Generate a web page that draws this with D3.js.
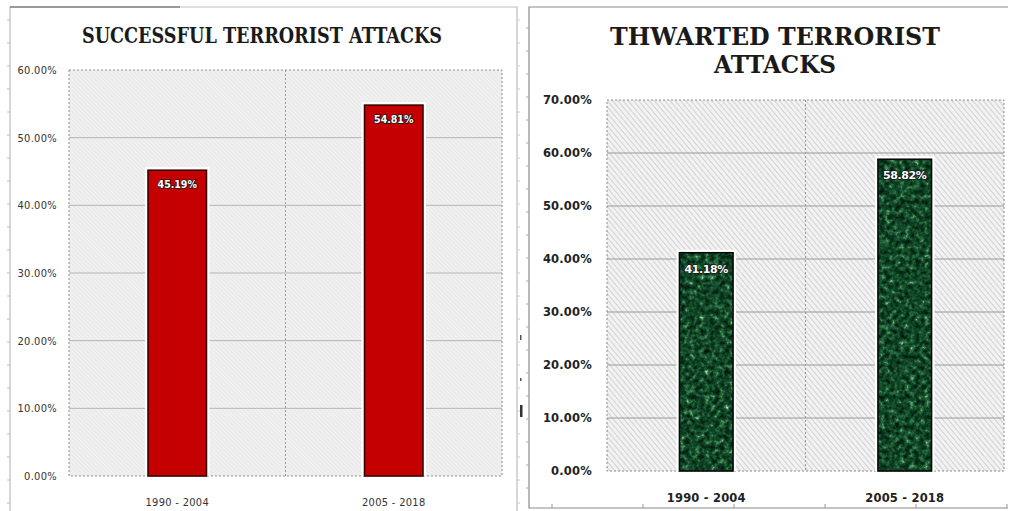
<!DOCTYPE html>
<html>
<head>
<meta charset="utf-8">
<script src="https://cdn.jsdelivr.net/npm/d3@7"></script>
<style>
  html, body { margin: 0; padding: 0; background: #fff; }
  svg { display: block; }
</style>
</head>
<body>
<svg id="chart" width="1019" height="511"></svg>
<script>
// Share of attacks per period
const categories = ["1990 - 2004", "2005 - 2018"];
const successfulValues = [45.19, 54.81];
const thwartedValues = [41.18, 58.82];
const successfulTicks = [0, 10, 20, 30, 40, 50, 60];
const thwartedTicks = [0, 10, 20, 30, 40, 50, 60, 70];

const svg = d3.select("#chart");
const defs = svg.append("defs");
const pct = d => d3.format(".2f")(d) + "%";

// Fine diagonal hatch for the left plot area
const hatchA = defs.append("pattern")
  .attr("id", "hatchA").attr("patternUnits", "userSpaceOnUse")
  .attr("width", 3).attr("height", 3)
  .attr("patternTransform", "rotate(-45)");
hatchA.append("rect").attr("width", 3).attr("height", 3).attr("fill", "#ebebeb");
hatchA.append("line").attr("x1", 0).attr("y1", 0).attr("x2", 0).attr("y2", 3)
  .attr("stroke", "#fafafa").attr("stroke-width", 1.2);

// Stronger diagonal hatch for the right plot area
const hatchB = defs.append("pattern")
  .attr("id", "hatchB").attr("patternUnits", "userSpaceOnUse")
  .attr("width", 4).attr("height", 4)
  .attr("patternTransform", "rotate(-40)");
hatchB.append("rect").attr("width", 4).attr("height", 4).attr("fill", "#f2f2f2");
hatchB.append("line").attr("x1", 0).attr("y1", 0).attr("x2", 0).attr("y2", 4)
  .attr("stroke", "#b2b2b2").attr("stroke-width", 1);

// Green marble texture for the thwarted bars
const marble = defs.append("filter").attr("id", "marble")
  .attr("x", 0).attr("y", 0).attr("width", 1).attr("height", 1)
  .attr("color-interpolation-filters", "sRGB");
marble.append("feTurbulence").attr("type", "fractalNoise")
  .attr("baseFrequency", 0.2).attr("numOctaves", 3).attr("seed", 7).attr("result", "noise");
marble.append("feColorMatrix").attr("in", "noise").attr("type", "matrix")
  .attr("values", "1 0 0 0 0  1 0 0 0 0  1 0 0 0 0  0 0 0 0 1").attr("result", "gray");
const ct = marble.append("feComponentTransfer").attr("in", "gray").attr("result", "tex");
ct.append("feFuncR").attr("type", "table").attr("tableValues", "0.0 0.0 0.01 0.03 0.05 0.09 0.16 0.34 0.68 0.85");
ct.append("feFuncG").attr("type", "table").attr("tableValues", "0.04 0.07 0.11 0.17 0.24 0.32 0.43 0.6 0.87 0.92");
ct.append("feFuncB").attr("type", "table").attr("tableValues", "0.02 0.03 0.06 0.09 0.13 0.18 0.25 0.4 0.72 0.85");
marble.append("feComposite").attr("in", "tex").attr("in2", "SourceGraphic").attr("operator", "in");

// Decorative frames with small ruler ticks
const frame = svg.append("g").attr("fill", "none");
frame.append("path").attr("d", "M10,511V7H517V511").attr("stroke", "#bdbdbd").attr("stroke-width", 1.2);
frame.append("line").attr("x1", 10).attr("x2", 180).attr("y1", 7).attr("y2", 7).attr("stroke", "#555");
frame.selectAll(".tl").data(d3.range(20, 511, 23)).join("line")
  .attr("x1", 7).attr("x2", 10).attr("y1", d => d).attr("y2", d => d).attr("stroke", "#bbb");
frame.selectAll(".tm").data(d3.range(20, 511, 23)).join("line")
  .attr("x1", 517).attr("x2", 520).attr("y1", d => d).attr("y2", d => d).attr("stroke", "#ccc");
frame.append("path").attr("d", "M1008,7H529V508H1008").attr("stroke", "#8a8a8a").attr("stroke-width", 1.2);
frame.selectAll(".tr").data(d3.range(28, 508, 23)).join("line")
  .attr("x1", 526).attr("x2", 529).attr("y1", d => d).attr("y2", d => d).attr("stroke", "#aaa");
frame.selectAll(".tb").data(d3.range(552, 1010, 91)).join("line")
  .attr("x1", d => d).attr("x2", d => d).attr("y1", 504).attr("y2", 508).attr("stroke", "#999");
frame.append("rect").attr("x", 520).attr("y", 405).attr("width", 2.5).attr("height", 12).attr("fill", "#333");
frame.append("rect").attr("x", 520).attr("y", 335).attr("width", 1.5).attr("height", 5).attr("fill", "#555");
frame.append("rect").attr("x", 520).attr("y", 378).attr("width", 1.5).attr("height", 3).attr("fill", "#555");

function drawPanel(cfg) {
  const g = svg.append("g");
  const x = d3.scaleBand().domain(categories)
    .range([cfg.left, cfg.right]).paddingInner(0.73).paddingOuter(0.365);
  const y = d3.scaleLinear().domain([0, cfg.max]).range([cfg.bottom, cfg.top]);

  // plot background
  g.append("rect")
    .attr("x", cfg.left).attr("y", cfg.top)
    .attr("width", cfg.right - cfg.left).attr("height", cfg.bottom - cfg.top)
    .attr("fill", cfg.hatch);

  // horizontal gridlines
  g.append("g").selectAll("line")
    .data(cfg.ticks.filter(t => t > 0 && t < cfg.max)).join("line")
    .attr("x1", cfg.left).attr("x2", cfg.right)
    .attr("y1", d => y(d)).attr("y2", d => y(d))
    .attr("stroke", cfg.gridColor).attr("stroke-width", 1);

  // vertical divider between categories
  const mid = (x(categories[0]) + x.bandwidth() + x(categories[1])) / 2;
  g.append("line").attr("x1", mid).attr("x2", mid)
    .attr("y1", cfg.top).attr("y2", cfg.bottom)
    .attr("stroke", "#9a9a9a").attr("stroke-dasharray", "2,2");

  // dashed plot border
  g.append("rect")
    .attr("x", cfg.left).attr("y", cfg.top)
    .attr("width", cfg.right - cfg.left).attr("height", cfg.bottom - cfg.top)
    .attr("fill", "none").attr("stroke", "#8c8c8c").attr("stroke-dasharray", "2,2");

  // y-axis labels
  const yAxis = d3.axisLeft(y).tickValues(cfg.ticks).tickFormat(pct).tickSize(0).tickPadding(0);
  const ya = g.append("g").attr("transform", `translate(${cfg.yLabelX},0)`).call(yAxis);
  ya.select(".domain").remove();
  ya.selectAll("text")
    .attr("font-family", cfg.labelFont).attr("font-size", cfg.labelSize)
    .attr("font-weight", cfg.labelWeight).attr("fill", cfg.labelColor)
    .attr("letter-spacing", cfg.labelSpacing);

  // x-axis labels
  const xAxis = d3.axisBottom(x).tickSize(0).tickPadding(0);
  const xa = g.append("g").attr("transform", `translate(0,${cfg.xLabelY})`).call(xAxis);
  xa.select(".domain").remove();
  xa.selectAll("text")
    .attr("font-family", cfg.labelFont).attr("font-size", cfg.labelSize)
    .attr("font-weight", cfg.labelWeight).attr("fill", cfg.labelColor)
    .attr("letter-spacing", cfg.labelSpacing);

  const bars = g.append("g");
  const data = categories.map((c, i) => ({ c, v: cfg.values[i] }));

  // white halo around each bar
  bars.selectAll(".halo").data(data).join("rect")
    .attr("x", d => x(d.c) - 3).attr("y", d => y(d.v) - 3)
    .attr("width", x.bandwidth() + 6).attr("height", d => y(0) - y(d.v) + 3)
    .attr("fill", "#fff");

  bars.selectAll(".bar").data(data).join("rect")
    .attr("x", d => x(d.c)).attr("y", d => y(d.v))
    .attr("width", x.bandwidth()).attr("height", d => y(0) - y(d.v))
    .attr("fill", cfg.barFill).attr("filter", cfg.barFilter || null);

  bars.selectAll(".edge").data(data).join("rect")
    .attr("x", d => x(d.c)).attr("y", d => y(d.v))
    .attr("width", x.bandwidth()).attr("height", d => y(0) - y(d.v))
    .attr("fill", "none").attr("stroke", cfg.barStroke).attr("stroke-width", 1.6);

  // value labels inside bar tops
  bars.selectAll(".val").data(data).join("text")
    .attr("x", d => x(d.c) + x.bandwidth() / 2)
    .attr("y", d => y(d.v) + cfg.valueOffset)
    .attr("text-anchor", "middle")
    .attr("font-family", cfg.valueFont).attr("font-size", cfg.valueSize)
    .attr("font-weight", "bold").attr("fill", "#fff")
    .attr("stroke", "#1a1a1a").attr("stroke-width", 1.6)
    .attr("paint-order", "stroke").attr("letter-spacing", cfg.valueSpacing)
    .text(d => pct(d.v));

  // title
  const title = g.append("g").attr("font-family", "'DejaVu Serif', 'Liberation Serif', serif")
    .attr("font-weight", "bold").attr("fill", "#1a1a1a").attr("text-anchor", "middle");
  cfg.title.forEach((t, i) => {
    title.append("text")
      .attr("x", cfg.titleX).attr("y", cfg.titleY + i * cfg.titleLead)
      .attr("font-size", cfg.titleSize)
      .attr("textLength", cfg.titleWidths[i]).attr("lengthAdjust", "spacingAndGlyphs")
      .text(t);
  });
}

drawPanel({
  left: 69, right: 502, top: 70, bottom: 476, max: 60,
  ticks: successfulTicks, values: successfulValues,
  hatch: "url(#hatchA)", gridColor: "#b5b5b5",
  yLabelX: 57, xLabelY: 498,
  labelFont: "'DejaVu Sans Condensed', 'Liberation Sans', sans-serif",
  labelSize: 11, labelWeight: "normal", labelColor: "#333", labelSpacing: 0.3,
  barFill: "#c40000", barStroke: "#3a0000",
  valueFont: "'DejaVu Sans Condensed', 'Liberation Sans', sans-serif",
  valueSize: 10.5, valueOffset: 18, valueSpacing: 0,
  title: ["SUCCESSFUL TERRORIST ATTACKS"], titleX: 262, titleY: 43, titleLead: 0,
  titleSize: 22, titleWidths: [360]
});

drawPanel({
  left: 607, right: 1004, top: 100, bottom: 471, max: 70,
  ticks: thwartedTicks, values: thwartedValues,
  hatch: "url(#hatchB)", gridColor: "#9a9a9a",
  yLabelX: 592, xLabelY: 494,
  labelFont: "'DejaVu Sans', Verdana, sans-serif",
  labelSize: 11.5, labelWeight: "bold", labelColor: "#222", labelSpacing: 0.2,
  barFill: "#1b5e2e", barFilter: "url(#marble)", barStroke: "#050805",
  valueFont: "'DejaVu Sans', Verdana, sans-serif",
  valueSize: 11, valueOffset: 20, valueSpacing: -0.4,
  title: ["THWARTED TERRORIST", "ATTACKS"], titleX: 775, titleY: 45, titleLead: 28,
  titleSize: 25, titleWidths: [330, 122]
});
</script>
</body>
</html>
